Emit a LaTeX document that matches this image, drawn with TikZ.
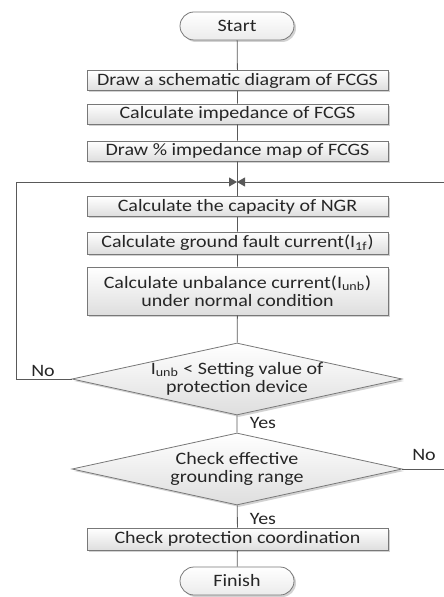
\documentclass[tikz,border=0pt]{standalone}
\usepackage{fontspec}
\setmainfont{Carlito}[FakeStretch=1.15]
\usepackage{tikz}
\usetikzlibrary{shapes.geometric,shapes.misc,shadows,arrows.meta}
\definecolor{flowline}{RGB}{89,89,89}
\definecolor{flowedge}{RGB}{120,120,120}
\definecolor{flowink}{RGB}{38,38,38}
\definecolor{flowshade}{RGB}{222,222,222}

\begin{document}
\begin{tikzpicture}[x=0.5pt,y=-0.5pt,
    every node/.style={font=\fontsize{8.7}{9}\selectfont,text=flowink},
    shad/.style={drop shadow={shadow xshift=1pt,shadow yshift=-1pt,fill=black!35,opacity=.5}},
    box/.style={draw=flowedge,top color=white,bottom color=flowshade,shad,
        minimum width=150.5pt,minimum height=10pt,inner sep=1pt,align=center},
    term/.style={rounded rectangle,draw=flowedge,top color=white,bottom color=flowshade!60,shad,
        minimum width=59pt,minimum height=14pt,inner sep=1pt},
    decision/.style={diamond,draw=flowedge,top color=white,bottom color=flowshade,shad,
        aspect=4.6,minimum width=165pt,minimum height=36pt,inner sep=-1.5pt,align=center},
    tip/.style={-{Triangle[length=4pt,width=4.5pt]}}]
    \useasboundingbox (0,0) rectangle (443,597);

    \node[term] (start) at (237,26) {Start};
    \node[box] (schem) at (237.5,80.5) {Draw a schematic diagram of FCGS};
    \node[box] (imp) at (237.5,114) {Calculate impedance of FCGS};
    \node[box] (map) at (237.5,151) {Draw \% impedance map of FCGS};
    \coordinate (merge) at (237,182);
    \node[box] (ngr) at (237.5,206.5) {Calculate the capacity of NGR};
    \node[box,minimum height=11pt] (fault) at (237.5,243) {Calculate ground fault current(I\textsubscript{1f})};
    \node[box,minimum height=24pt] (unb) at (237.5,291)
        {Calculate unbalance current(I\textsubscript{unb})\\under normal condition};
    \node[decision] (setting) at (237,379)
        {I\textsubscript{unb} < Setting value of\\protection device};
    \node[decision] (range) at (237,469) {Check effective\\grounding range};
    \node[box,minimum height=11pt] (coord) at (237.5,539) {Check protection coordination};
    \node[term] (finish) at (237,581) {Finish};

    % labels on the branches
    \node (no1) at (43,371) {No};
    \node (yes1) at (263,423) {Yes};
    \node (no2) at (424,455) {No};
    \node (yes2) at (263,519) {Yes};

    \draw[flowline] (start) -- (schem) -- (imp) -- (map) -- (ngr) -- (fault) -- (unb)
        -- (setting) -- (range) -- (coord) -- (finish);
    % loops back to the merge point
    \draw[flowline,tip] (setting.west) -- (16,379) |- (merge);
    \draw[flowline,tip] (range.east) -- (450,469) |- (merge);
\end{tikzpicture}
\end{document}
